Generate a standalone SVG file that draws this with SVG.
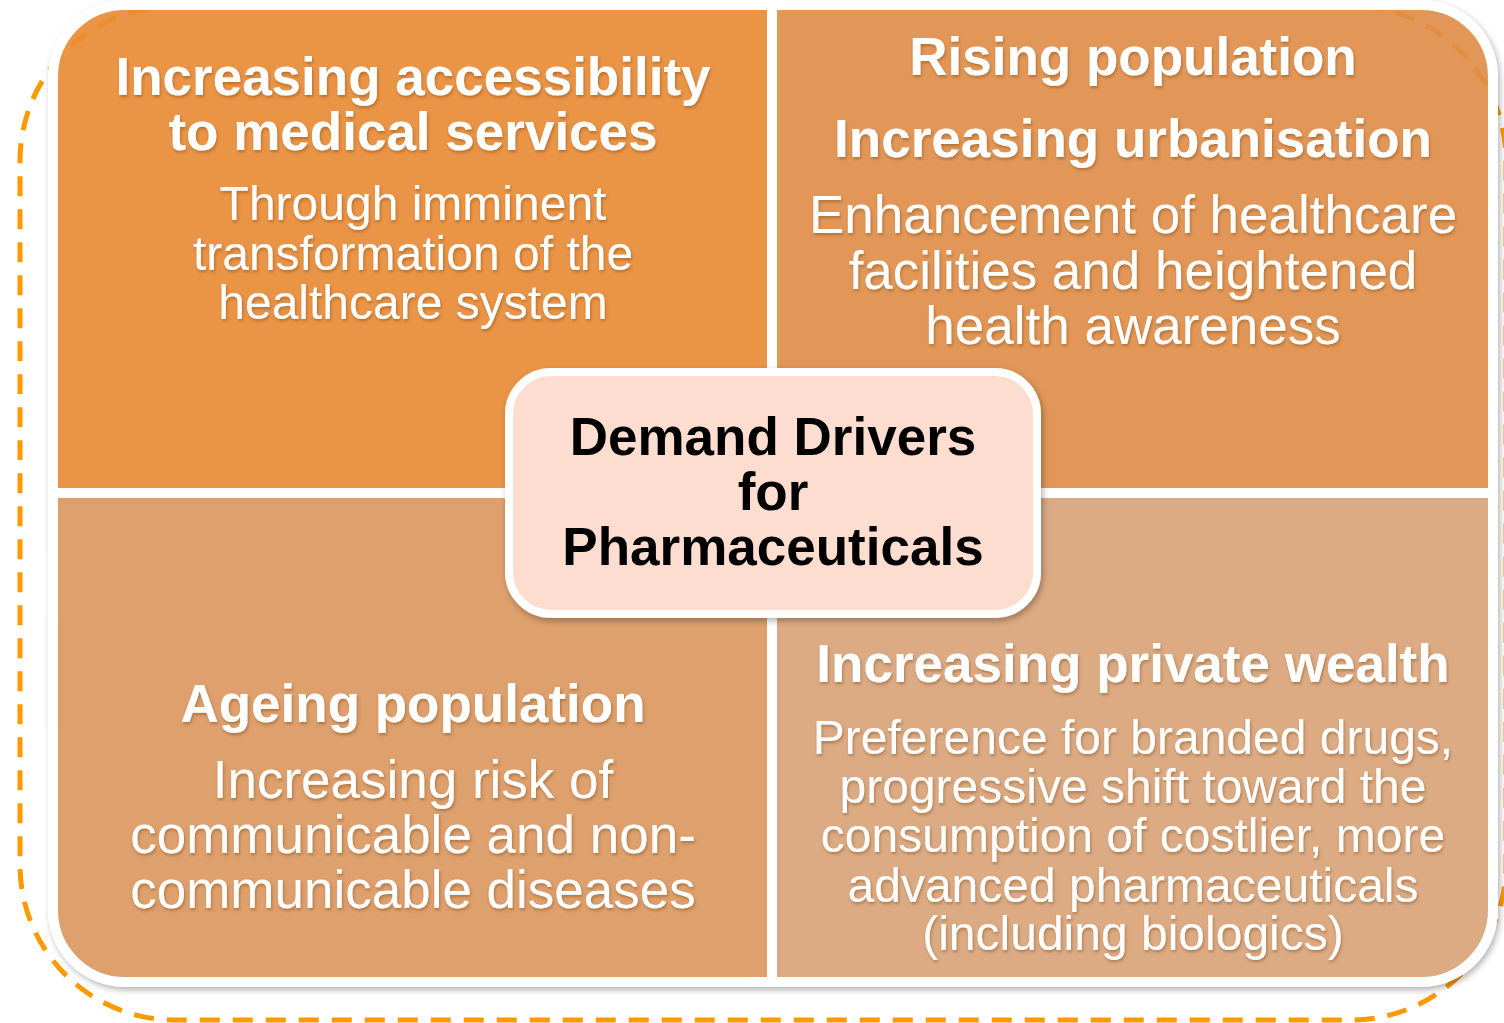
<svg xmlns="http://www.w3.org/2000/svg" width="1504" height="1023" viewBox="0 0 1504 1023">
<defs>
<filter id="sh" x="-5%" y="-5%" width="110%" height="110%">
<feDropShadow dx="2" dy="3" stdDeviation="3" flood-color="#000" flood-opacity="0.3"/>
</filter>
<filter id="tsh" x="-5%" y="-20%" width="110%" height="140%">
<feDropShadow dx="1" dy="2" stdDeviation="1.5" flood-color="#6a3a10" flood-opacity="0.4"/>
</filter>
<style>
.q{stroke:#fff;stroke-width:10;fill-opacity:0.88}
.t{font-family:"Liberation Sans",Arial,sans-serif;fill:#fff;text-anchor:middle;filter:url(#tsh)}
.b{font-weight:bold;font-size:53px}
.r{font-size:48px}
.r53{font-size:53px}
.c{font-family:"Liberation Sans",Arial,sans-serif;fill:#000;text-anchor:middle;font-weight:bold;font-size:53px}
</style>
</defs>
<rect x="20" y="6" width="1486" height="1014" rx="155" ry="155" fill="none" stroke="#FF9900" stroke-width="5" stroke-dasharray="20 13"/>
<g filter="url(#sh)">
<g id="q-tl"><path class="q" fill="#EC8C36" d="M53,77 A72,72 0 0 1 125,5 L772,5 L772,493 L53,493 Z"/>
<text class="t b" x="413" y="95">Increasing accessibility</text>
<text class="t b" x="413" y="150">to medical services</text>
<text class="t r" x="413" y="220">Through imminent</text>
<text class="t r" x="413" y="270">transformation of the</text>
<text class="t r" x="413" y="319">healthcare system</text>
</g>
<g id="q-tr"><path class="q" fill="#E28F49" d="M772,5 L1421,5 A72,72 0 0 1 1493,77 L1493,493 L772,493 Z"/>
<text class="t b" x="1133" y="75">Rising population</text>
<text class="t b" x="1133" y="157">Increasing urbanisation</text>
<text class="t r53" x="1133" y="233">Enhancement of healthcare</text>
<text class="t r53" x="1133" y="289">facilities and heightened</text>
<text class="t r53" x="1133" y="344">health awareness</text>
</g>
<g id="q-bl"><path class="q" fill="#DE9960" d="M53,493 L772,493 L772,982 L125,982 A72,72 0 0 1 53,910 Z"/>
<text class="t b" x="413" y="722">Ageing population</text>
<text class="t r53" x="413" y="798">Increasing risk of</text>
<text class="t r53" x="413" y="853">communicable and non-</text>
<text class="t r53" x="413" y="908">communicable diseases</text>
</g>
<g id="q-br"><path class="q" fill="#DCA579" d="M772,493 L1493,493 L1493,910 A72,72 0 0 1 1421,982 L772,982 Z"/>
<text class="t b" x="1133" y="682">Increasing private wealth</text>
<text class="t r" x="1133" y="754">Preference for branded drugs,</text>
<text class="t r" x="1133" y="803">progressive shift toward the</text>
<text class="t r" x="1133" y="852">consumption of costlier, more</text>
<text class="t r" x="1133" y="902">advanced pharmaceuticals</text>
<text class="t r" x="1133" y="950">(including biologics)</text>
</g>
</g>
<g id="center" filter="url(#sh)">
<rect x="509" y="372" width="528" height="242" rx="42" ry="42" fill="#FCDDD0" stroke="#fff" stroke-width="8"/>
<text class="c" x="773" y="455">Demand Drivers</text>
<text class="c" x="773" y="510">for</text>
<text class="c" x="773" y="565">Pharmaceuticals</text>
</g>
<g id="connectors"></g>
</svg>
